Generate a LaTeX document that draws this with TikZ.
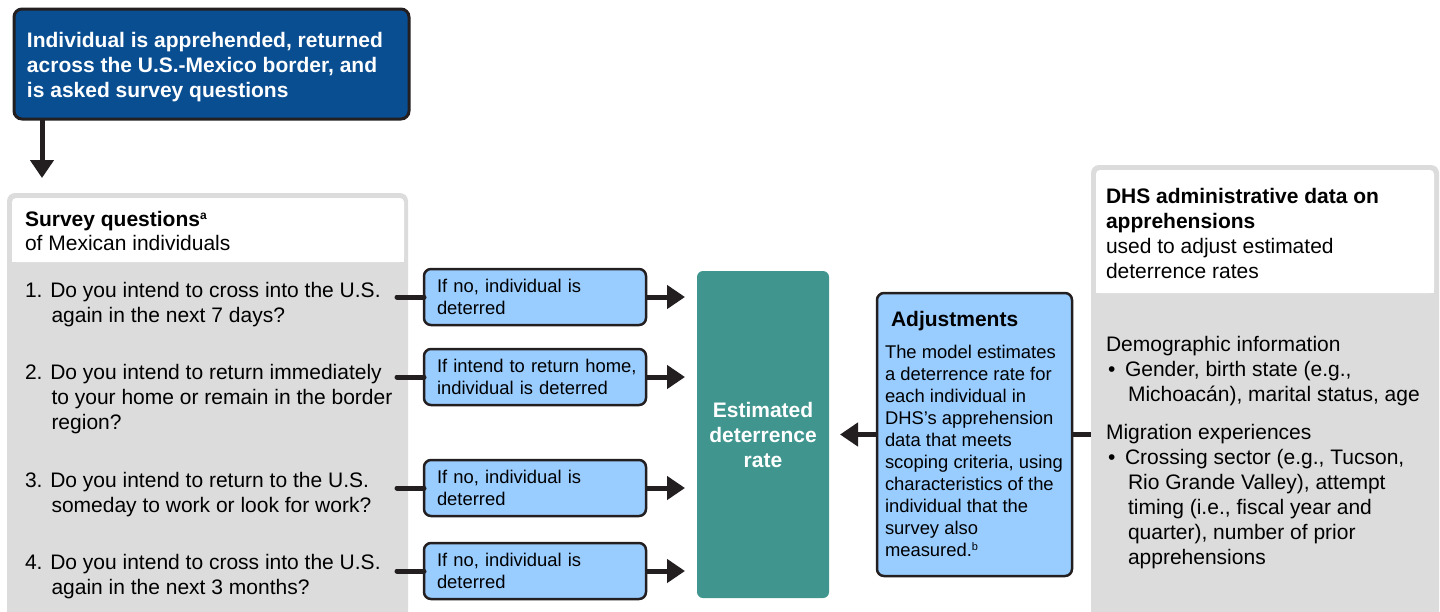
\documentclass[tikz,border=0pt]{standalone}
\usepackage{fontspec}
\setmainfont{Liberation Sans}
\usetikzlibrary{arrows.meta}
\definecolor{navy}{HTML}{0A4E92}
\definecolor{lblue}{HTML}{99CCFF}
\definecolor{tealbox}{HTML}{40968F}
\definecolor{panelgray}{HTML}{DCDCDC}
\definecolor{ink}{HTML}{231F20}
\begin{document}
\begin{tikzpicture}[x=1pt,y=-1pt,
  every node/.style={inner sep=0pt, outer sep=0pt},
  bigtxt/.style={font=\fontsize{21}{25}\selectfont, text=black, align=left, anchor=base west},
  smalltxt/.style={font=\fontsize{18.4}{22}\selectfont, text=black, align=left, anchor=base west},
  conn/.style={draw=ink, line width=5pt},
  arr/.style={conn, -{Triangle[length=18pt,width=23pt]}},
  qbox/.style={draw=ink, line width=2.5pt, fill=lblue, rounded corners=7pt,
    minimum width=222pt, minimum height=56pt, text width=196pt, inner xsep=13pt,
    align=left, font=\fontsize{18.4}{22}\selectfont},
  panel/.style={fill=panelgray, rounded corners=8pt, anchor=north west}
]
\useasboundingbox (0,0) rectangle (1440,611);

% top box (text baselines given for the last line)
\node[draw=ink, line width=3pt, fill=navy, rounded corners=8pt,
  minimum width=395pt, minimum height=110pt] (top) at (211.5,64) {};
\node[bigtxt, text=white, font=\fontsize{21}{25}\selectfont\bfseries] (toptxt) at (27,97)
  {Individual is apprehended, returned\\across the U.S.-Mexico border, and\\is asked survey questions};

% left panel
\node[panel, minimum width=401pt, minimum height=437pt] (survey) at (7,193) {};
\node[fill=white, rounded corners=4pt, anchor=north west, minimum width=392pt, minimum height=64pt] (surveyhead) at (12,198) {};
\node[fill=white, anchor=north west, minimum width=392pt, minimum height=20pt] (surveyheadlow) at (12,242) {};

\draw[arr] ([xshift=28pt]top.south west) -- ([xshift=28pt,yshift=15pt]top.south west |- survey.north);

\node[bigtxt, font=\fontsize{21}{24}\selectfont] (sh) at (25,250) {\textbf{Survey questions}\raisebox{7pt}{\fontsize{12}{12}\selectfont\bfseries a}\\of Mexican individuals};
\node[bigtxt] (q1) at (25,322) {1. Do you intend to cross into the U.S.\\\hspace*{26.5pt}again in the next 7 days?};
\node[bigtxt] (q2) at (25,429) {2. Do you intend to return immediately\\\hspace*{26.5pt}to your home or remain in the border\\\hspace*{26.5pt}region?};
\node[bigtxt] (q3) at (25,512) {3. Do you intend to return to the U.S.\\\hspace*{26.5pt}someday to work or look for work?};
\node[bigtxt] (q4) at (25,594) {4. Do you intend to cross into the U.S.\\\hspace*{26.5pt}again in the next 3 months?};

% decision boxes
\node[qbox] (b1) at (535,297) {If no, individual is\\deterred};
\node[qbox] (b2) at (535,377) {\mbox{If intend to return home,}\\individual is deterred};
\node[qbox] (b3) at (535,488) {If no, individual is\\deterred};
\node[qbox] (b4) at (535,571) {If no, individual is\\deterred};

\coordinate (c1) at (397,297);
\coordinate (c2) at (397,377);
\coordinate (c3) at (397,488);
\coordinate (c4) at (397,571);
\foreach \i in {1,2,3,4} {
  \draw[conn, line cap=round] (c\i) -- (b\i.west);
}

% estimated rate
\node[fill=tealbox, rounded corners=6pt, minimum width=132pt, minimum height=327pt,
  align=center, text=white, font=\fontsize{21}{25}\selectfont\bfseries] (est) at (763,434.5)
  {Estimated\\deterrence\\rate};

\foreach \i in {1,2,3,4} {
  \draw[arr] (b\i.east) -- ([xshift=-12pt]b\i.east -| est.west);
}

% adjustments
\node[draw=ink, line width=2.5pt, fill=lblue, rounded corners=7pt,
  minimum width=195pt, minimum height=283pt] (adj) at (974.5,434.5) {};
\node[bigtxt, font=\fontsize{21}{25}\selectfont\bfseries] (adjt) at (891,326.5) {Adjustments};
\node[smalltxt] (adjb) at (885,556) {The model estimates\\a deterrence rate for\\each individual in\\DHS’s apprehension\\data that meets\\scoping criteria, using\\characteristics of the\\individual that the\\survey also\\measured.\raisebox{6pt}{\fontsize{11}{11}\selectfont b}};

\draw[arr] (adj.west) -- ([xshift=11pt]adj.west -| est.east);

% right panel
\node[panel, minimum width=348pt, minimum height=470pt] (dhs) at (1091,165) {};
\node[fill=white, rounded corners=4pt, anchor=north west, minimum width=338pt, minimum height=123pt] (dhshead) at (1096,170) {};
\node[fill=white, anchor=north west, minimum width=338pt, minimum height=20pt] (dhsheadlow) at (1096,273) {};

\draw[conn] (adj.east) -- (adj.east -| dhs.west);

\node[bigtxt] (dh) at (1106,278) {\textbf{DHS administrative data on}\\\textbf{apprehensions}\\used to adjust estimated\\deterrence rates};
\node[bigtxt] (demo) at (1106,401) {Demographic information\\\makebox[19pt][l]{\hspace*{2pt}•}Gender, birth state (e.g.,\\\hspace*{22pt}Michoacán), marital status, age};
\node[bigtxt] (migr) at (1106,564) {Migration experiences\\\makebox[19pt][l]{\hspace*{2pt}•}Crossing sector (e.g., Tucson,\\\hspace*{22pt}Rio Grande Valley), attempt\\\hspace*{22pt}timing (i.e., fiscal year and\\\hspace*{22pt}quarter), number of prior\\\hspace*{22pt}apprehensions};
\end{tikzpicture}
\end{document}
